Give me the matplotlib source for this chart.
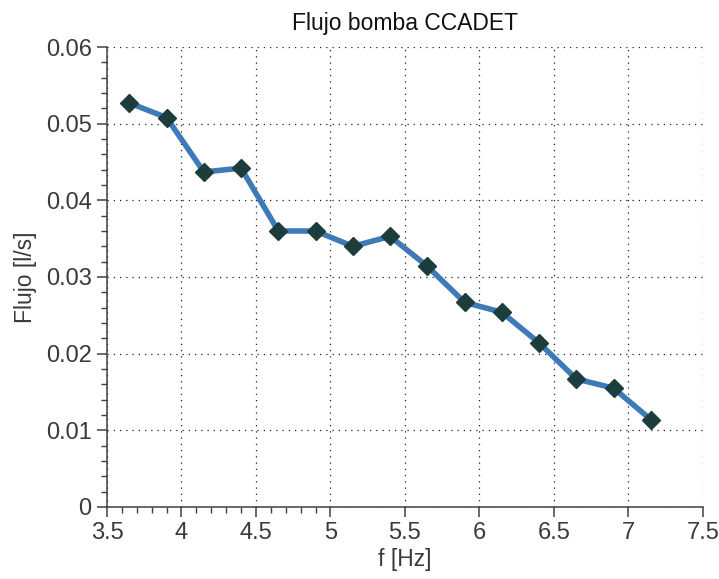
import matplotlib
matplotlib.use("Agg")
import matplotlib.pyplot as plt
from matplotlib.ticker import FixedLocator, MultipleLocator

plt.rcParams['font.family'] = ['Liberation Sans', 'DejaVu Sans']

# Pump flow measurements
freq_hz = [3.65, 3.90, 4.15, 4.40, 4.65, 4.90, 5.15, 5.40,
           5.65, 5.90, 6.15, 6.40, 6.65, 6.90, 7.15]
flow_ls = [0.0527, 0.0508, 0.0437, 0.0442, 0.0360, 0.0360, 0.0340, 0.0353,
           0.0314, 0.0267, 0.0254, 0.0214, 0.0167, 0.0155, 0.0114]

x_ticks = [3.5, 4, 4.5, 5, 5.5, 6, 6.5, 7, 7.5]
x_tick_labels = ['3.5', '4', '4.5', '5', '5.5', '6', '6.5', '7', '7.5']
y_ticks = [0, 0.01, 0.02, 0.03, 0.04, 0.05, 0.06]
y_tick_labels = ['0', '0.01', '0.02', '0.03', '0.04', '0.05', '0.06']
x_minor = [3.6, 3.7, 3.8, 3.9, 4.1, 4.2, 4.3, 4.4, 4.6, 4.7, 4.8, 4.9]

text_color = '#3a3a3a'
axis_color = '#404040'

fig = plt.figure(figsize=(7.19, 5.79), dpi=100)
ax = fig.add_axes([0.1488, 0.1244, 0.8289, 0.7944])

ax.plot(freq_hz, flow_ls, color='#3f7ab8', linewidth=4.0, zorder=3,
        solid_joinstyle='round')
ax.plot(freq_hz, flow_ls, linestyle='none', marker='D', markersize=9,
        color='#1d3c3c', zorder=4)

ax.set_xlim(3.5, 7.5)
ax.set_ylim(0, 0.06)
ax.set_xticks(x_ticks)
ax.set_xticklabels(x_tick_labels)
ax.set_yticks(y_ticks)
ax.set_yticklabels(y_tick_labels)
ax.xaxis.set_minor_locator(FixedLocator(x_minor))
ax.yaxis.set_minor_locator(MultipleLocator(0.002))

for side in ('top', 'right'):
    ax.spines[side].set_visible(False)
for side in ('left', 'bottom'):
    ax.spines[side].set_color(axis_color)
    ax.spines[side].set_linewidth(1.1)

ax.tick_params(which='major', direction='out', length=7, width=1.1,
               color=axis_color, labelsize=17, labelcolor=text_color, pad=4)
ax.tick_params(which='minor', direction='out', length=4, width=1.0,
               color=axis_color)

ax.grid(True, which='major', color='#202020', linestyle=(0, (1, 4)),
        linewidth=0.9)
ax.set_axisbelow(True)

ax.set_title('Flujo bomba CCADET', fontsize=16.5, color='#111111', pad=12)
ax.set_xlabel('f [Hz]', fontsize=16.5, color=text_color, labelpad=3)
ax.set_ylabel('Flujo [l/s]', fontsize=16.5, color=text_color, labelpad=6)

fig.savefig('out.png', dpi=100)
